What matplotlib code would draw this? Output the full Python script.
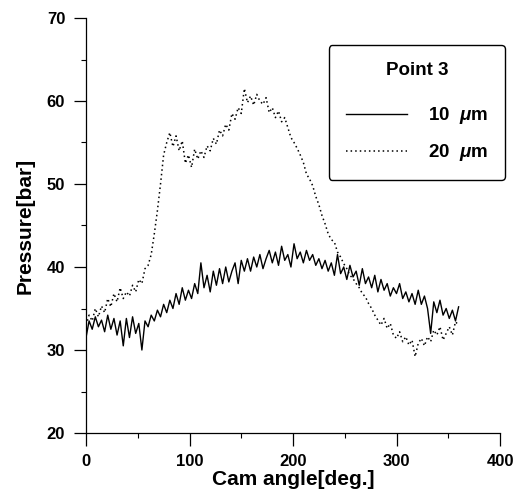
import numpy as np
import matplotlib
matplotlib.use("Agg")
import matplotlib.pyplot as plt
from matplotlib.ticker import MultipleLocator

plt.rcParams['font.family'] = ['Liberation Sans', 'DejaVu Sans']
plt.rcParams['mathtext.fontset'] = 'custom'
plt.rcParams['mathtext.it'] = 'Liberation Sans:italic:bold'
plt.rcParams['mathtext.rm'] = 'Liberation Sans:bold'

# ---- data ----
cam_angle = list(range(0, 361, 3))

p_10um = [31.5, 33.5, 32.5, 34.0, 32.8, 33.6, 32.2, 34.2, 32.5, 33.8,
          31.8, 33.5, 30.5, 33.8, 31.5, 34.0, 32.0, 33.2, 30.0, 33.5,
          32.8, 34.2, 33.5, 34.8, 34.0, 35.5, 34.5, 36.0, 35.0, 36.8,
          35.5, 37.5, 36.0, 37.2, 36.2, 38.0, 36.8, 40.5, 37.5, 39.0,
          37.0, 39.5, 37.8, 39.8, 38.0, 40.0, 38.2, 39.5, 40.5, 38.0,
          40.8, 39.5, 41.0, 39.5, 41.2, 40.0, 41.5, 39.8, 41.0, 42.0,
          40.5, 41.8, 40.2, 42.5, 40.8, 41.5, 40.0, 42.8, 41.0, 41.8,
          40.5, 42.0, 40.8, 41.5, 40.2, 41.0, 39.8, 40.8, 39.5, 40.5,
          39.0, 41.5, 39.2, 40.0, 38.5, 40.2, 38.8, 39.5, 37.8, 39.8,
          38.0, 38.8, 37.5, 39.0, 37.0, 38.5, 37.2, 38.0, 36.5, 37.5,
          36.8, 38.0, 36.2, 37.0, 35.8, 36.8, 35.5, 37.2, 35.5, 36.5,
          35.0, 32.0, 35.8, 34.5, 36.0, 34.2, 35.0, 33.8, 34.8, 33.5,
          35.2]

p_20um = [33.0, 34.2, 33.5, 35.0, 34.0, 35.3, 34.5, 36.2, 35.2, 36.8,
          35.8, 37.5, 36.2, 37.0, 36.5, 37.8, 37.0, 38.5, 38.0, 39.8,
          40.2, 41.5, 44.0, 46.8, 50.0, 53.5, 55.0, 56.2, 54.5, 55.8,
          54.0, 55.2, 52.5, 53.5, 52.0, 54.2, 53.0, 54.0, 53.2, 54.6,
          54.0, 55.5, 54.8, 56.5, 55.8, 57.2, 56.5, 58.5, 57.8, 59.2,
          58.5, 61.5, 59.8, 60.6, 59.5, 60.8, 60.0, 59.6, 60.4, 58.6,
          59.2, 58.0, 58.8, 57.5, 58.0, 56.8, 55.6, 55.0, 54.3, 53.5,
          52.6, 51.2, 50.6, 49.8, 48.5, 47.5, 46.2, 45.2, 44.0, 43.3,
          43.0, 41.8, 41.2, 40.4, 39.8, 39.0, 38.6, 38.0, 37.5, 36.8,
          36.4, 35.6, 35.0, 34.2, 33.6, 33.0, 33.8, 32.6, 33.2, 31.8,
          31.4, 32.2, 31.0, 31.6, 30.6, 31.2, 29.2, 30.8, 31.4, 30.5,
          31.6, 31.0, 32.4, 31.8, 32.8, 31.2, 32.0, 32.8, 31.8, 33.4,
          33.0]

labels = ['10  $\\mathit{\\mu}$m', '20  $\\mathit{\\mu}$m']
legend_title = 'Point 3'
xlabel = 'Cam angle[deg.]'
ylabel = 'Pressure[bar]'

fig = plt.figure(figsize=(5.19, 4.95), dpi=100)
ax = fig.add_axes([86/519, 1-433/495, 414/519, 415/495])

ax.plot(cam_angle, p_10um, color='black', lw=1.0, label=labels[0])
ax.plot(cam_angle, p_20um, color='black', lw=1.1, ls=(0, (1, 2)), label=labels[1])

ax.set_xlim(0, 400)
ax.set_ylim(20, 70)
ax.xaxis.set_major_locator(MultipleLocator(100))
ax.xaxis.set_minor_locator(MultipleLocator(50))
ax.yaxis.set_major_locator(MultipleLocator(10))
ax.yaxis.set_minor_locator(MultipleLocator(5))
ax.tick_params(which='major', direction='out', length=9, width=0.9, labelsize=12, pad=6)
ax.tick_params(which='minor', direction='out', length=3.5, width=0.8)
for lab in ax.get_xticklabels() + ax.get_yticklabels():
    lab.set_fontweight('bold')

for s in ['top', 'right']:
    ax.spines[s].set_visible(False)
for s in ['left', 'bottom']:
    ax.spines[s].set_linewidth(0.9)

ax.set_xlabel(xlabel, fontsize=15, fontweight='bold', labelpad=1)
ax.set_ylabel(ylabel, fontsize=15, fontweight='bold', labelpad=9)

leg = ax.legend(loc='upper right', bbox_to_anchor=(1.012, 0.935), title=legend_title,
                fontsize=13.5, title_fontproperties={'weight': 'bold', 'size': 13.5},
                handlelength=3.3, handletextpad=1.1, labelspacing=0.85,
                borderpad=0.9, frameon=True, fancybox=True, edgecolor='black',
                framealpha=1.0, borderaxespad=0)
leg.get_frame().set_linewidth(1.0)
leg._legend_box.sep = 19
for t in leg.get_texts():
    t.set_fontweight('bold')

fig.savefig('out.png', dpi=100)
